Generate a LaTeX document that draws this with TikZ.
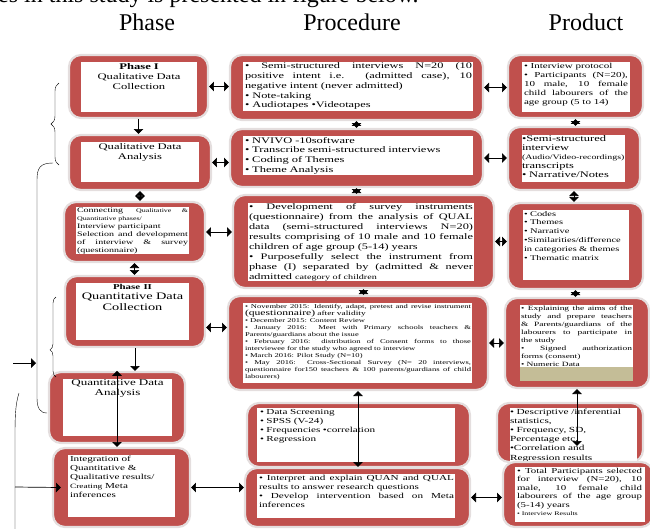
\documentclass[tikz,border=0pt]{standalone}
\usepackage{fontspec}
\setmainfont{Liberation Serif}
\newfontfamily\boxfont{Liberation Serif}[FakeStretch=1.45]
\usetikzlibrary{arrows}
\usetikzlibrary{fit}
\usetikzlibrary{decorations.pathreplacing}

\definecolor{boxred}{RGB}{192,80,77}
\definecolor{boxrim}{RGB}{228,222,222}
\definecolor{boxtan}{RGB}{196,189,151}

\tikzset{
  redframe/.style={fill=boxred, draw=boxrim, line width=2.2pt, rounded corners=12pt, inner sep=0pt},
  pane/.style={fill=white, inner sep=0pt},
  body/.style={inner sep=0pt, anchor=north west, align=justify},
  heading/.style={inner sep=0pt, font=\fontsize{24}{28}\selectfont},
  link/.style={triangle 90-triangle 90, line width=0.7pt},
  feed/.style={-triangle 90, line width=0.7pt}
}

\begin{document}
\begin{tikzpicture}[x=1pt,y=-1pt]
    \path[use as bounding box] (0,0) rectangle (650,528);
    % Headings.
    \node[heading, anchor=base west] (intro) at (-2,2.5) {es in this study is presented in figure below.};
    \node[heading, anchor=base] (phase) at (147,30) {Phase};
    \node[heading, anchor=base] (procedure) at (352,30) {Procedure};
    \node[heading, anchor=base] (product) at (586,30) {Product};

    % Phase column.
    \node[redframe, fit={(69,55) (208,118)}] (b1) {};
    \node[pane, fit={(81,62) (197,112)}] (b1w) {};
    \node[body, anchor=north, align=center, text width=114pt, font=\boxfont\fontsize{8.7}{10}\selectfont] (b1t) at ([yshift=-1pt]b1w.north)
      {\textbf{Phase I}\\Qualitative Data\\Collection};

    \node[redframe, fit={(69,135) (211,190)}] (b2) {};
    \node[pane, fit={(81,142) (199,182)}] (b2w) {};
    \node[body, anchor=north, align=center, text width=114pt, font=\boxfont\fontsize{8.7}{10.5}\selectfont] (b2t) at ([yshift=-1pt]b2w.north)
      {Qualitative Data\\Analysis};

    \node[redframe, fit={(64,202) (205,262)}] (b3) {};
    \node[pane, fit={(76,207) (189,254)}] (b3w) {};
    \node[body, text width=111pt, font=\boxfont\fontsize{6.9}{8}\selectfont] (b3t) at ([shift={(1pt,-1pt)}]b3w.north west)
      {Connecting {\fontsize{5.5}{8}\selectfont Qualitative \&}\linebreak
       {\fontsize{5.5}{8}\selectfont Quantitative phases/}\\
       Interview participant\\
       Selection and development\linebreak
       of interview \& survey\linebreak
       (questionnaire)};

    \node[redframe, fit={(65,276) (205,347)}] (b4) {};
    \node[pane, fit={(76,283) (189,340)}] (b4w) {};
    \node[body, anchor=north, align=center, text width=111pt, font=\boxfont\fontsize{9.9}{10.5}\selectfont] (b4t) at ([yshift=-1pt]b4w.north)
      {{\fontsize{7.5}{9}\selectfont\textbf{Phase II}}\\Quantitative Data\\Collection};

    \node[redframe, fit={(49,372) (185,443)}] (b5) {};
    \node[pane, fit={(63,379) (172,436)}] (b5w) {};
    \node[body, anchor=north, align=center, text width=107pt, font=\boxfont\fontsize{9}{10}\selectfont] (b5t) at ([yshift=-1pt]b5w.north)
      {Quantitative Data\\Analysis};

    \node[redframe, fit={(53,448) (190,527)}] (b6) {};
    \node[pane, fit={(68,455) (175,517)}] (b6w) {};
    \node[body, align=left, text width=105pt, font=\boxfont\fontsize{7.7}{9}\selectfont] (b6t) at ([shift={(2pt,-1pt)}]b6w.north west)
      {Integration of\\Quantitative \&\\Qualitative results/\\{\fontsize{6.5}{9}\selectfont Creating} Meta\\inferences};

    % Procedure column.
    \node[redframe, fit={(230,55) (483,120)}] (p1) {};
    \node[pane, fit={(243,62) (473,111)}] (p1w) {};
    \node[body, text width=227pt, font=\boxfont\fontsize{8.5}{9.7}\selectfont] (p1t) at ([shift={(2pt,-1pt)}]p1w.north west)
      {• Semi-structured interviews N=20 (10\linebreak
       positive intent i.e. (admitted case), 10\linebreak
       negative intent (never admitted)\\
       • Note-taking\\
       • Audiotapes •Videotapes};

    \node[redframe, fit={(230,129) (483,187)}] (p2) {};
    \node[pane, fit={(243,136) (473,175)}] (p2w) {};
    \node[body, align=left, text width=227pt, font=\boxfont\fontsize{8.6}{9.7}\selectfont] (p2t) at ([shift={(2pt,-1pt)}]p2w.north west)
      {• NVIVO -10software\\• Transcribe semi-structured interviews\\• Coding of Themes\\• Theme Analysis};

    \node[redframe, fit={(233,195) (494,288)}] (p3) {};
    \node[pane, fit={(248,203) (474,281)}] (p3w) {};
    \node[body, text width=224pt, font=\boxfont\fontsize{8.5}{10}\selectfont] (p3t) at ([shift={(1pt,-1pt)}]p3w.north west)
      {• Development of survey instruments\linebreak
       (questionnaire) from the analysis of QUAL\linebreak
       data (semi-structured interviews N=20)\linebreak
       results comprising of 10 male and 10 female\linebreak
       children of age group (5-14) years\\
       • Purposefully select the instrument from\linebreak
       phase (I) separated by (admitted \& never\linebreak
       admitted {\fontsize{7}{10}\selectfont category of children}};

    \node[redframe, fit={(228,296) (488,390)}] (p4) {};
    \node[pane, fit={(243,303) (472,383)}] (p4w) {};
    \node[body, text width=226pt, font=\boxfont\fontsize{5.9}{7}\selectfont] (p4t) at ([shift={(2pt,-1pt)}]p4w.north west)
      {• November 2015: Identify, adapt, pretest and revise instrument\linebreak
       {\fontsize{8}{7}\selectfont (questionnaire)} {\fontsize{6.5}{7}\selectfont after validity}\\
       • December 2015: Content Review\\
       • January 2016: Meet with Primary schools teachers \&\linebreak
       Parents/guardians about the issue\\
       • February 2016: distribution of Consent forms to those\linebreak
       interviewee for the study who agreed to interview\\
       • March 2016: Pilot Study (N=10)\\
       • May 2016: Cross-Sectional Survey (N= 20 interviews,\linebreak
       questionnaire for150 teachers \& 100 parents/guardians of child\linebreak
       labourers)};

    \node[redframe, fit={(247,403) (470,467)}] (p5) {};
    \node[pane, fit={(257,408) (455,462)}] (p5w) {};
    \node[body, align=left, text width=194pt, font=\boxfont\fontsize{7.7}{9}\selectfont] (p5t) at ([shift={(3pt,-1pt)}]p5w.north west)
      {• Data Screening\\• SPSS (V-24)\\• Frequencies •correlation\\• Regression};

    \node[redframe, fit={(245,468) (470,527)}] (p6) {};
    \node[pane, fit={(257,474) (455,518)}] (p6w) {};
    \node[body, text width=195pt, font=\boxfont\fontsize{7.7}{9}\selectfont] (p6t) at ([shift={(2pt,-1pt)}]p6w.north west)
      {• Interpret and explain QUAN and QUAL\linebreak
       results to answer research questions\\
       • Develop intervention based on Meta\linebreak
       inferences};

    % Product column.
    \node[redframe, fit={(508,55) (643,118)}] (r1) {};
    \node[pane, fit={(522,62) (630,112)}] (r1w) {};
    \node[body, text width=104pt, font=\boxfont\fontsize{7.6}{9}\selectfont] (r1t) at ([shift={(2pt,-1pt)}]r1w.north west)
      {• Interview protocol\\
       • Participants (N=20),\linebreak
       10 male, 10 female\linebreak
       child labourers of the\linebreak
       age group (5 to 14)};

    \node[redframe, fit={(508,127) (640,190)}] (r2) {};
    \node[pane, fit={(522,135) (625,182)}] (r2w) {};
    \node[body, align=left, text width=103pt, font=\boxfont\fontsize{8.6}{9}\selectfont] (r2t) at ([shift={(0pt,-1pt)}]r2w.north west)
      {•Semi-structured\\interview\\{\fontsize{6.8}{9}\selectfont(Audio/Video-recordings)}\\transcripts\\• Narrative/Notes};

    \node[redframe, fit={(508,203) (643,289)}] (r3) {};
    \node[pane, fit={(523,210) (629,280)}] (r3w) {};
    \node[body, align=left, text width=104pt, font=\boxfont\fontsize{7.2}{8.8}\selectfont] (r3t) at ([shift={(1pt,-1pt)}]r3w.north west)
      {• Codes\\• Themes\\• Narrative\\•Similarities/difference\\in categories \& themes\\• Thematic matrix};

    \node[redframe, fit={(505,298) (649,388)}] (r4) {};
    \node[pane, fit={(520,305) (633,381)}] (r4w) {};
    \fill[boxtan] (520,367) rectangle (633,381);
    \node[body, text width=111pt, font=\boxfont\fontsize{6.5}{8}\selectfont] (r4t) at ([shift={(1pt,-1pt)}]r4w.north west)
      {• Explaining the aims of the\linebreak
       study and prepare teachers\linebreak
       \& Parents/guardians of the\linebreak
       labourers to participate in\linebreak
       the study\\
       • Signed authorization\linebreak
       forms (consent)\\
       • Numeric Data};

    \node[redframe, fit={(497,403) (643,462)}] (r5) {};
    \node[pane, fit={(510,408) (637,462)}] (r5w) {};
    \node[body, align=left, text width=125pt, font=\boxfont\fontsize{7.8}{9.1}\selectfont] (r5t) at ([shift={(0pt,-1pt)}]r5w.north west)
      {• Descriptive /inferential\\statistics,\\• Frequency, SD,\\Percentage etc.\\•Correlation and\\Regression results};

    \node[redframe, fit={(503,462) (653,527)}] (r6) {};
    \node[pane, fit={(515,467) (645,522)}] (r6w) {};
    \node[body, text width=125pt, font=\boxfont\fontsize{7.5}{8.5}\selectfont] (r6t) at ([shift={(2pt,-1pt)}]r6w.north west)
      {• Total Participants selected\linebreak
       for interview (N=20), 10\linebreak
       male, 10 female child\linebreak
       labourers of the age group\linebreak
       (5-14) years\\
       {\fontsize{5.5}{8.5}\selectfont • Interview Results}};

    % Braces.
    \draw[decorate, decoration={brace, amplitude=8pt}] (59,165) -- (59,83);
    \draw[decorate, decoration={brace, amplitude=6pt, aspect=0.34}] (56,377) -- (56,297);
    \draw (53,163) .. controls (40,163) and (37,168) .. (37,180) -- (37,398) .. controls (37,408) and (40,413) .. (47,413);
    \draw (19,393) .. controls (15,405) and (15,420) .. (15,440) -- (15,530);
    \coordinate (lefttail) at (13,363);
    \coordinate (bracketmid) at (36,363);
    \coordinate (lowbar) at (15,487);
    \draw[feed] (lefttail) -- (bracketmid);
    \draw[feed] (lowbar) -- ([xshift=9pt]b6.west);

    % Connectors down the columns.
    \draw[feed] (b1.south) -- (b1.south |- b2.north);
    \draw[link] (b2.south) -- (b2.south |- b3.north);
    \draw[link] (b3.south) -- (b3.south |- b4.north);
    \draw[feed] (b4.south) -- (b4.south |- b5.north);
    \draw[link] (b5.north) -- (b5.north |- b6.north);
    \draw[link] (p1.south) -- (p1.south |- p2.north);
    \draw[link] (p2.south) -- (p2.south |- p3.north);
    \draw[link] (p3.south) -- (p3.south |- p4.north);
    \draw[link] (p4.south) -- (p4.south |- p6.north);
    \draw[link] (r1.south) -- (r1.south |- r2.north);
    \draw[link] (r2.south) -- (r2.south |- r3.north);
    \draw[link] (r3.south) -- (r3.south |- r4.north);
    \draw[link] (r4.south) -- ([yshift=15pt]r4.south |- r6.north);

    % Connectors across the rows.
    \draw[link] (b1.east) -- (b1.east -| p1.west);
    \draw[link] (p1.east) -- (p1.east -| r1.west);
    \draw[link] (b2.east) -- (b2.east -| p2.west);
    \draw[link] (p2.east) -- (p2.east -| r2.west);
    \draw[link] (b3.east) -- (b3.east -| p3.west);
    \draw[link] (p3.east) -- (p3.east -| r3.west);
    \draw[link] ([yshift=-16pt]b4.east) -- ([yshift=-16pt]b4.east -| p4.west);
    \draw[link] (p4.east) -- (p4.east -| r4.west);
    \draw[link] (b6.east) -- (b6.east -| p6.west);
    \draw[link] (p6.east) -- (p6.east -| r6.west);
  \end{tikzpicture}
\end{document}
